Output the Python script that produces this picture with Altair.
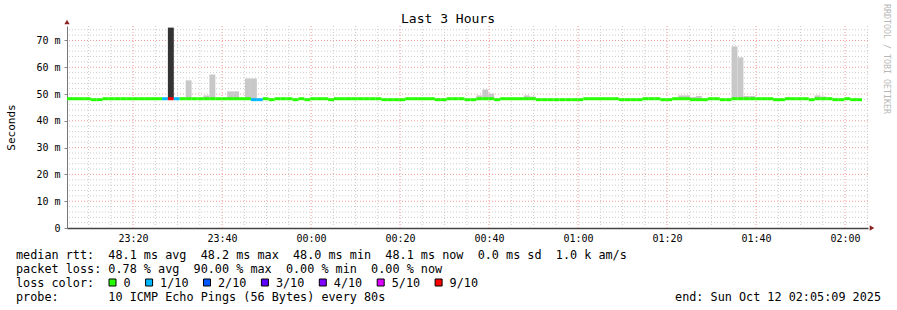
import altair as alt
import pandas as pd

FONT = "DejaVu Sans Mono"
NB = "\u00a0"

# ---------------- data ----------------
START_MIN = 5.15          # 23:05:09, in minutes after 23:00
STEP_MIN = 80 / 60        # 80 s probe interval
END_MIN = 185.15          # 02:05:09

H, L = 48.25, 47.9        # the two median levels (ms)
median_ms = [
    H, H, H, H, L, L, H, H, H, H,
    H, H, H, H, H, H, H, H, H, H,
    H, H, H, H, H, H, H, H, H, H,
    H, L, L, H, L, H, H, H, L, H,
    L, H, H, H, L, H, H, H, H, H,
    H, H, H, L, L, L, L, H, H, H,
    H, H, L, L, H, H, H, L, L, H,
    H, H, L, H, H, H, H, H, H, L,
    L, L, L, L, L, L, L, H, H, H,
    H, H, H, L, L, L, L, H, H, H,
    L, L, H, H, H, L, L, L, H, H,
    L, L, H, H, H, H, H, H, H, L,
    L, H, H, H, H, L, H, H, H, L,
    L, H, L, L,
]

loss_steps = [16, 17, 18, 31, 32]
loss_counts = [1, 9, 1, 1, 1]

smoke_steps = [1, 17, 19, 20, 23, 24, 27, 28, 29, 30, 31,
               69, 70, 71, 77, 78, 97, 98, 103, 104, 105, 106,
               112, 113, 114, 115, 126, 127, 128, 129]
smoke_tops = [48.7, 74.8, 48.7, 55.1, 49.5, 57.3, 51.0, 51.0, 48.4, 55.8, 55.8,
              49.5, 51.7, 50.2, 49.5, 49.1, 48.7, 48.7, 49.5, 49.5, 48.9, 49.3,
              67.8, 63.7, 49.3, 49.3, 49.5, 49.1, 48.7, 48.4]

loss_labels = ["0", "1/10", "2/10", "3/10", "4/10", "5/10", "9/10"]
loss_colors = ["#26ff00", "#00b8ff", "#0059ff", "#5e00ff", "#7e00ff", "#dd00ff", "#ff0000"]
loss_of_count = {0: "#26ff00", 1: "#00b8ff", 2: "#0059ff", 3: "#5e00ff",
                 4: "#7e00ff", 5: "#dd00ff", 9: "#ff0000"}

x_major = [20, 40, 60, 80, 100, 120, 140, 160, 180]
y_major = [10, 20, 30, 40, 50, 60, 70]

title_text = "Last 3 Hours"
ytitle_text = "Seconds"
side_text = "RRDTOOL / TOBI OETIKER"
line1 = "median rtt:  48.1 ms avg  48.2 ms max  48.0 ms min  48.1 ms now  0.0 ms sd  1.0 k am/s"
line2 = "packet loss: 0.78 % avg  90.00 % max  0.00 % min  0.00 % now"
line3 = "loss color:"
line4 = "probe:       10 ICMP Echo Pings (56 Bytes) every 80s"
end_text = "end: Sun Oct 12 02:05:09 2025"

# ---------------- tables ----------------
loss = dict(zip(loss_steps, loss_counts))
rows = []
for i, m in enumerate(median_ms):
    c = loss.get(i, 0)
    rows.append({"t0": START_MIN + i * STEP_MIN, "t1": START_MIN + (i + 1) * STEP_MIN,
                 "median": m, "color": loss_of_count[c]})
df = pd.DataFrame(rows)

srows = []
for s, top in zip(smoke_steps, smoke_tops):
    c = loss.get(s, 0)
    srows.append({"t0": START_MIN + s * STEP_MIN, "t1": START_MIN + (s + 1) * STEP_MIN,
                  "lo": median_ms[s], "hi": top,
                  "color": "#333333" if c >= 9 else "#c8c8c8"})
sdf = pd.DataFrame(srows)

x_minor = [m for m in range(10, 186, 5) if m % 20]
y_minor = [v for v in range(2, 76, 2) if v % 10]

W, HGT = 801, 202
xs = alt.Scale(domain=[START_MIN, END_MIN], nice=False, zero=False)
ys = alt.Scale(domain=[0, 75.4], nice=False, zero=False)

one = pd.DataFrame({"k": [0]})

xlabel = ("pad(toString((23 + floor(datum.value / 60)) % 24), 2, '0', 'left') + ':' + "
          "pad(toString(datum.value % 60), 2, '0', 'left')")
ylabel = "datum.value == 0 ? '0\u00a0\u00a0' : datum.value + '\u00a0m'"

XAX = alt.Axis(values=x_major, labelExpr=xlabel, grid=False, ticks=False, labelPadding=5,
               labelFont=FONT, labelFontSize=10, labelColor="#000", domainColor="#444",
               domainWidth=1.5, title=None)
YAX = alt.Axis(values=[0] + y_major, labelExpr=ylabel, grid=False, tickSize=3,
               tickColor="#888", labelPadding=4, labelFont=FONT, labelFontSize=10,
               labelColor="#000", domainColor="#777", title=ytitle_text, titleFont=FONT,
               titleFontSize=11, titleFontWeight="normal", titleColor="#000",
               titleAngle=-90, titleX=-56, titleY=101, titleAlign="center",
               titleBaseline="middle")


def X(f):
    return alt.X(f, scale=xs, axis=XAX, title=None)


def Y(f):
    return alt.Y(f, scale=ys, axis=YAX, title=ytitle_text)


gx_minor = alt.Chart(pd.DataFrame({"x": x_minor})).mark_rule(
    color="#cccccc", strokeDash=[1, 2], strokeWidth=1).encode(x=X("x:Q"))
gx_major = alt.Chart(pd.DataFrame({"x": x_major})).mark_rule(
    color="#f29a9a", strokeDash=[1, 2], strokeWidth=1).encode(x=X("x:Q"))
gy_minor = alt.Chart(pd.DataFrame({"y": y_minor})).mark_rule(
    color="#cccccc", strokeDash=[1, 2], strokeWidth=1).encode(y=Y("y:Q"))
gy_major = alt.Chart(pd.DataFrame({"y": y_major})).mark_rule(
    color="#f29a9a", strokeDash=[1, 2], strokeWidth=1).encode(y=Y("y:Q"))

smoke = alt.Chart(sdf).mark_rect().encode(
    x=X("t0:Q"), x2="t1:Q",
    y=Y("lo:Q"), y2="hi:Q",
    color=alt.Color("color:N", scale=None),
)

median = alt.Chart(df).mark_rule(strokeWidth=3, strokeCap="butt").encode(
    x=X("t0:Q"), x2="t1:Q",
    y=Y("median:Q"),
    color=alt.Color("color:N", scale=None),
)

arrow_y = alt.Chart(one).mark_point(shape="triangle-up", filled=True, size=28,
                                    color="#8b2323", opacity=1).encode(
    x=alt.value(0), y=alt.value(-4))
arrow_x = alt.Chart(one).mark_point(shape="triangle-right", filled=True, size=28,
                                    color="#8b2323", opacity=1).encode(
    x=alt.value(W + 4), y=alt.value(HGT))


def txt(s, x, y, align="left", size=11.8, color="#000", angle=0):
    return alt.Chart(one).mark_text(
        text=s.replace(" ", NB), align=align, baseline="middle", font=FONT,
        fontSize=size, color=color, angle=angle).encode(
        x=alt.value(x), y=alt.value(y))


OX, OY = 67, 26
texts = [
    txt(title_text, 448 - OX, 19 - OY, align="center", size=13),
    txt(side_text, 886 - OX, 59 - OY, align="center", size=8.3, color="#b8b8b8", angle=90),
    txt(line1, 16 - OX, 254.5 - OY),
    txt(line2, 16 - OX, 268.5 - OY),
    txt(line3, 16 - OX, 282.5 - OY),
    txt(line4, 16 - OX, 296.5 - OY),
    txt(end_text, 881 - OX, 296.5 - OY, align="right"),
]

# loss colour legend
lx = []
x = 112.5
for lab in loss_labels:
    lx.append(x)
    x += 14.5 + 7.1 * len(lab) + 15
leg = pd.DataFrame({"lab": loss_labels, "col": loss_colors,
                    "sx": [v - OX for v in lx], "tx": [v - OX + 11 for v in lx]})
leg_sq = alt.Chart(leg).mark_square(size=49, stroke="#000", strokeWidth=1, opacity=1).encode(
    x=alt.X("sx:Q", scale=None), y=alt.value(282.5 - OY),
    fill=alt.Fill("col:N", scale=None))
leg_tx = alt.Chart(leg).mark_text(align="left", baseline="middle", font=FONT,
                                  fontSize=11.8, color="#000").encode(
    x=alt.X("tx:Q", scale=None), y=alt.value(282.5 - OY), text="lab:N")

chart = alt.layer(
    gx_minor, gy_minor, gx_major, gy_major, smoke, median,
    arrow_y, arrow_x, *texts, leg_sq, leg_tx,
).properties(
    width=W, height=HGT,
    autosize=alt.AutoSizeParams(type="none"),
    padding={"left": OX, "top": OY, "right": 897 - OX - W, "bottom": 310 - OY - HGT},
    background="white",
).configure_view(stroke=None)

chart.save("out.html", embed_options={"renderer": "svg", "actions": False})
